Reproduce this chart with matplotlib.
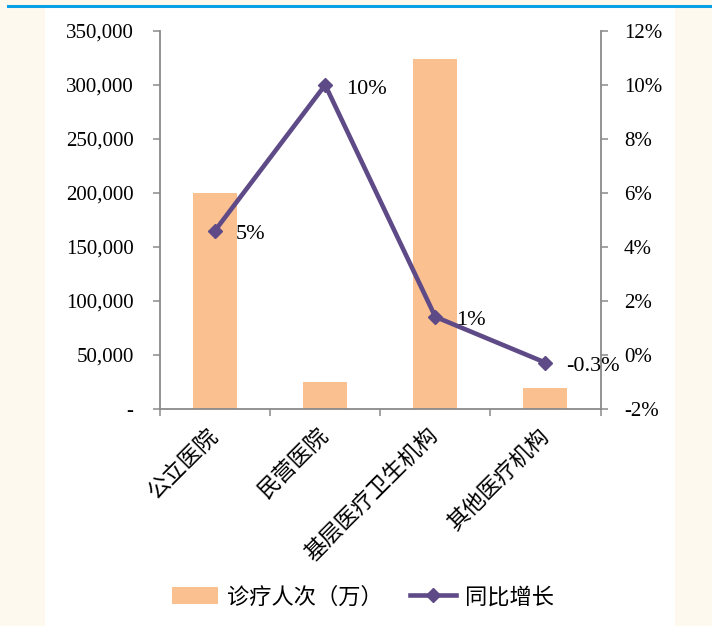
import matplotlib
matplotlib.use("Agg")
import matplotlib.pyplot as plt
from matplotlib.patches import Rectangle
from matplotlib.lines import Line2D
from matplotlib.ticker import FuncFormatter, FixedLocator

# data
categories = ["公立医院", "民营医院", "基层医疗卫生机构", "其他医疗机构"]
visits = [200000, 24800, 324000, 19300]          # 诊疗人次（万）
growth = [4.6, 10.0, 1.4, -0.3]                  # 同比增长（%）
left_ticks = [0, 50000, 100000, 150000, 200000, 250000, 300000, 350000]
right_ticks = [-2, 0, 2, 4, 6, 8, 10, 12]

BAR_COLOR = "#FAC090"
LINE_COLOR = "#5E4A86"
SPINE_COLOR = "#8A8A8A"
SERIF = ["Liberation Serif", "DejaVu Serif"]
CJK = ["Noto Sans CJK SC", "DejaVu Sans"]

fig = plt.figure(figsize=(7.12, 6.26), dpi=100)
fig.patch.set_facecolor("#FEF9EE")

# white panel and top rule
W, H = 712, 626
fig.patches.append(Rectangle((45 / W, 0), (675 - 45) / W, (H - 7) / H,
                             transform=fig.transFigure, facecolor="white",
                             edgecolor="none", zorder=-10))
fig.lines.append(Line2D([8 / W, 1], [1 - 6 / H, 1 - 6 / H], transform=fig.transFigure,
                        color="#0AA0E6", linewidth=2.2, zorder=-9))

ax = fig.add_axes([160 / W, 1 - 408.5 / H, (600.5 - 160) / W, (408.5 - 31) / H])
ax.set_facecolor("none")
ax2 = ax.twinx()
ax2.set_facecolor("none")

x = list(range(len(categories)))
ax.bar(x, visits, width=0.4, color=BAR_COLOR, zorder=2)
ax.set_xlim(-0.5, len(categories) - 0.5)
ax.set_ylim(0, 350000)
ax.yaxis.set_major_locator(FixedLocator(left_ticks))
ax.yaxis.set_major_formatter(FuncFormatter(lambda v, p: "-" if v == 0 else f"{v:,.0f}"))

ax2.plot(x, growth, color=LINE_COLOR, linewidth=3.3, marker="D", markersize=7.5,
         zorder=3, solid_capstyle="round")
ax2.set_ylim(-2, 12)
ax2.yaxis.set_major_locator(FixedLocator(right_ticks))
ax2.yaxis.set_major_formatter(FuncFormatter(lambda v, p: f"{v:.0f}%"))


def pct_label(v):
    return f"{v:.0f}%" if abs(v) >= 1 else f"{v:.1f}%"


for xi, g in zip(x, growth):
    ax2.annotate(pct_label(g), (xi, g), xytext=(15, -3), textcoords="offset points",
                 ha="left", va="center", fontsize=16, family=SERIF, color="black",
                 zorder=4)

# category boundaries as x ticks, names centred on each bar
ax.set_xticks([i - 0.5 for i in range(len(categories) + 1)])
ax.set_xticklabels([])
ax.set_xticks(x, minor=True)
ax.set_xticklabels(categories, minor=True, rotation=45, ha="right", va="center",
                   rotation_mode="anchor", fontsize=16, family=CJK)
ax.tick_params(axis="x", which="minor", length=0, pad=17)
ax.tick_params(axis="x", which="major", direction="out", length=5, width=1.1,
               color=SPINE_COLOR)

for a in (ax, ax2):
    for s in a.spines.values():
        s.set_visible(False)
ax.spines["left"].set_visible(True)
ax.spines["bottom"].set_visible(True)
ax2.spines["right"].set_visible(True)
for s in (ax.spines["left"], ax.spines["bottom"], ax2.spines["right"]):
    s.set_color(SPINE_COLOR)
    s.set_linewidth(1.3)

ax.tick_params(axis="y", direction="out", length=5, width=1.1, color=SPINE_COLOR,
               labelsize=15, pad=14)
ax2.tick_params(axis="y", direction="out", length=5, width=1.1, color=SPINE_COLOR,
                labelsize=15, pad=12)
for lab in ax.get_yticklabels() + ax2.get_yticklabels():
    lab.set_family(SERIF)

# legend
handles = [Rectangle((0, 0), 1, 1, facecolor=BAR_COLOR, edgecolor="none"),
           Line2D([], [], color=LINE_COLOR, linewidth=3.3, marker="D", markersize=7.5)]
fig.legend(handles, ["诊疗人次（万）", "同比增长"], loc="center",
           bbox_to_anchor=(363 / W, 1 - 597 / H), ncol=2, frameon=False,
           prop={"family": CJK, "size": 16}, handlelength=2.1, handleheight=0.8,
           columnspacing=1.2, handletextpad=0.4)

fig.savefig("out.png", dpi=100, facecolor=fig.get_facecolor())
